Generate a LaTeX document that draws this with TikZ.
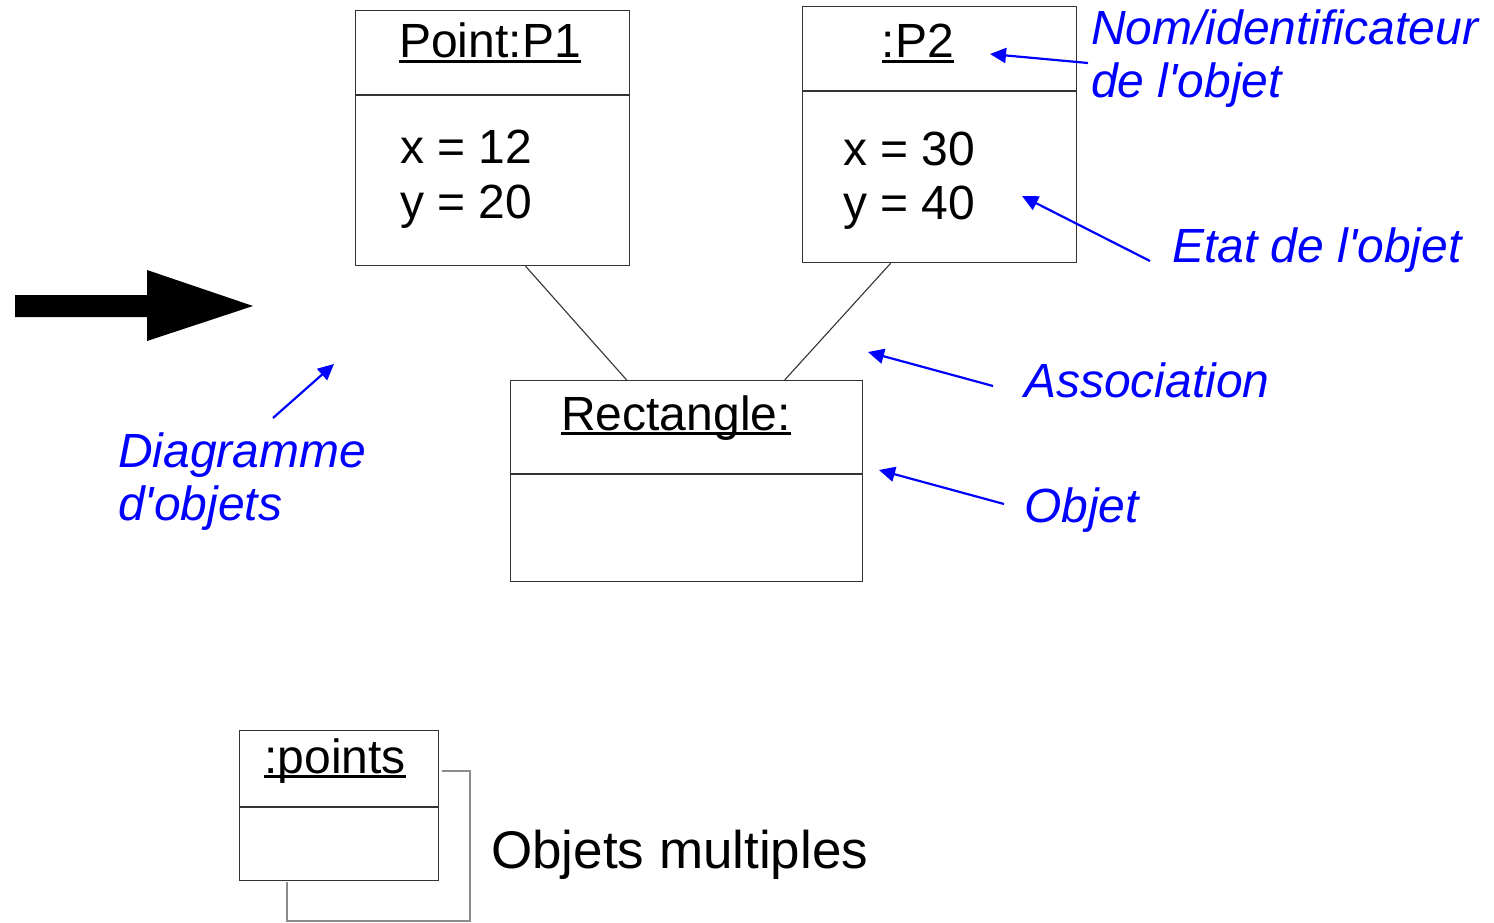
\documentclass[tikz,border=0pt]{standalone}
\usepackage{fontspec}
\setmainfont{Liberation Sans}
\usetikzlibrary{arrows.meta,calc}
\newcommand\myul[1]{\setbox0\hbox{#1}\rlap{\rule[-0.1em]{\wd0}{0.055em}}\box0}
\newcommand\apos{\textquotesingle}
\begin{document}
\begin{tikzpicture}[x=1pt,y=-1pt,
  box/.style={draw=black!80, line width=1.3pt, inner sep=0pt, anchor=north west},
  divider/.style={draw=black!80, line width=1.3pt},
  txt/.style={inner sep=0pt, font=\fontsize{48}{56}\selectfont},
  bluelabel/.style={inner sep=0pt, text=blue, font=\fontsize{48}{56}\selectfont\itshape, anchor=base west},
  note/.style={draw=blue, line width=2.2pt, -{Triangle[length=16pt,width=15pt]}},
  shadowline/.style={draw=black!45, line width=1.5pt},
]
\useasboundingbox (0,0) rectangle (1494,923);

% big arrow
\fill[black] (15,295) -- (147,295) -- (147,270) -- (253,306) -- (147,341) -- (147,317) -- (15,317) -- cycle;

% Point:P1
\node[box, minimum width=274pt, minimum height=255pt] (p1) at (355,10) {};
\draw[divider] ([yshift=-85pt]p1.north west) -- ([yshift=-85pt]p1.north east);
\node[txt, anchor=base] (p1t) at (490,58) {\myul{Point:P1}};
\node[txt, anchor=base west] (p1x) at (400,164) {x = 12};
\node[txt, anchor=base west] (p1y) at (400,218) {y = 20};

% :P2
\node[box, minimum width=274pt, minimum height=256pt] (p2) at (802,6) {};
\draw[divider] ([yshift=-85pt]p2.north west) -- ([yshift=-85pt]p2.north east);
\node[txt, anchor=base] (p2t) at (918,58) {\myul{:P2}};
\node[txt, anchor=base west] (p2x) at (843,165) {x = 30};
\node[txt, anchor=base west] (p2y) at (843,219) {y = 40};

% Rectangle:
\node[box, minimum width=352pt, minimum height=201pt] (rect) at (510,380) {};
\draw[divider] ([yshift=-94pt]rect.north west) -- ([yshift=-94pt]rect.north east);
\node[txt, anchor=base] (rectt) at (676,430) {\myul{Rectangle:}};

% associations
\draw[divider, line width=1.1pt] ([xshift=33pt]p1.south) -- ([xshift=-60pt]rect.north);
\draw[divider, line width=1.1pt] ([xshift=-49pt]p2.south) -- ([xshift=98pt]rect.north);

% :points (multiple)
\node[box, minimum width=199pt, minimum height=150pt] (pts) at (239,730) {};
\draw[divider] ([yshift=-77pt]pts.north west) -- ([yshift=-77pt]pts.north east);
\node[txt, anchor=base] (ptst) at (335,773) {\myul{:points}};
\coordinate (sh1) at (442,771);
\coordinate (sh2) at (470,771);
\coordinate (sh3) at (470,921);
\coordinate (sh4) at (287,921);
\coordinate (sh5) at (287,882);
\draw[shadowline] (sh1) -- (sh2) -- (sh3) -- (sh4) -- (sh5);
\node[txt, anchor=base west, font=\fontsize{53}{60}\selectfont] (multi) at (491,868) {Objets multiples};

% blue annotations
\node[bluelabel] (nom) at (1091,45) {Nom/identificateur};
\node[bluelabel] (nom2) at (1091,98) {de l\apos objet};
\node[bluelabel] (etat) at (1172,262) {Etat de l\apos objet};
\node[bluelabel] (assoc) at (1024,397) {Association};
\node[bluelabel] (objet) at (1024,522) {Objet};
\node[bluelabel] (diag) at (118,467) {Diagramme};
\node[bluelabel] (diag2) at (118,520) {d\apos objets};

\coordinate (nomS) at (1088,63);   \coordinate (nomT) at (990,54);
\coordinate (etatS) at (1150,261); \coordinate (etatT) at (1022,196);
\coordinate (assS) at (993,386);   \coordinate (assT) at (868,352);
\coordinate (objS) at (1004,504);  \coordinate (objT) at (879,470);
\coordinate (diaS) at (273,418);   \coordinate (diaT) at (334,364);
\draw[note] (nomS) -- (nomT);
\draw[note] (etatS) -- (etatT);
\draw[note] (assS) -- (assT);
\draw[note] (objS) -- (objT);
\draw[note] (diaS) -- (diaT);
\end{tikzpicture}
\end{document}
